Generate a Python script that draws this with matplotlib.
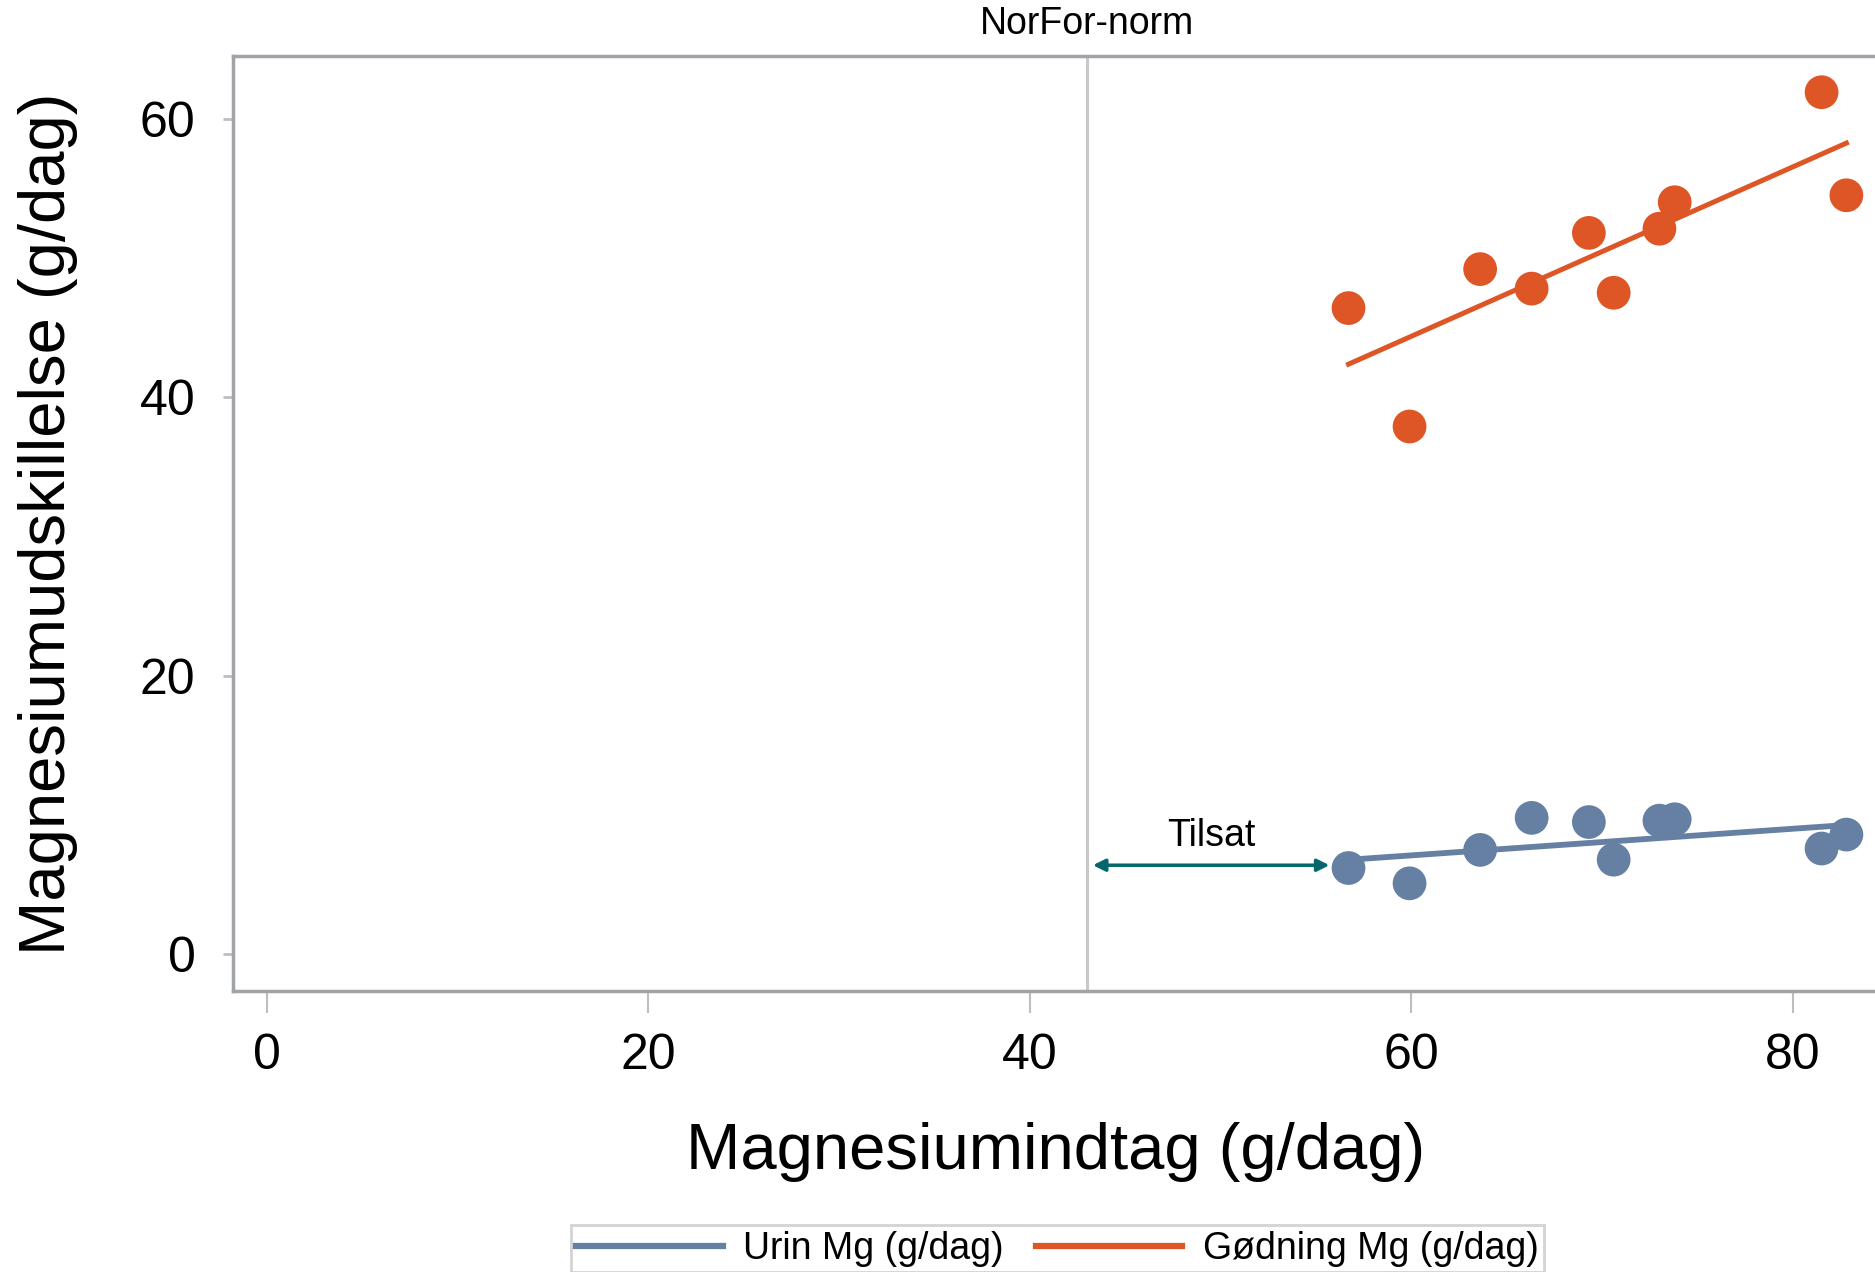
import numpy as np
import matplotlib.pyplot as plt

plt.rcParams['font.family'] = ['Liberation Sans', 'DejaVu Sans']

# Magnesium intake (g/dag) per observation
mg_indtag = [56.7, 59.9, 63.6, 66.3, 69.3, 70.6, 73.0, 73.8, 81.5, 82.8]
# Excretion in manure and urine (g/dag)
goedning_mg = [46.4, 37.9, 49.2, 47.8, 51.8, 47.5, 52.1, 54.0, 61.9, 54.5]
urin_mg = [6.2, 5.1, 7.5, 9.8, 9.5, 6.8, 9.6, 9.7, 7.6, 8.6]

norfor_norm = 43.0
tilsat_start = 43.3
tilsat_slut = 55.7
tilsat_y = 6.4

orange = '#DE5526'
blaa = '#6680A3'
teal = '#05676B'
graa = '#A0A4A8'

fig = plt.figure(figsize=(18.75, 12.72), dpi=100)
ax = fig.add_axes([233/1875, 1 - 991/1272, 1 - 233/1875, 935/1272])

x = np.array(mg_indtag)
xx = np.array([x.min(), x.max()])
for y, c, lab, lw in [(urin_mg, blaa, 'Urin Mg (g/dag)', 4.2),
                      (goedning_mg, orange, 'Gødning Mg (g/dag)', 3.6)]:
    ax.scatter(x, y, s=590, color=c, edgecolors='none', zorder=3)
    k = np.polyfit(x, y, 1)
    ax.plot(xx, np.polyval(k, xx), color=c, lw=lw, zorder=4, label=lab)

ax.axvline(norfor_norm, color='#C8C8C8', lw=2.2, zorder=1)
ax.text(norfor_norm, 1.034, 'NorFor-norm', transform=ax.get_xaxis_transform(),
        ha='center', va='center', fontsize=27)

ax.annotate('', xy=(tilsat_start, tilsat_y), xytext=(tilsat_slut, tilsat_y),
            arrowprops=dict(arrowstyle='<|-|>', color=teal, lw=2.5,
                            mutation_scale=18, shrinkA=0, shrinkB=0))
ax.text((tilsat_start + tilsat_slut) / 2, 8.5, 'Tilsat', ha='center', va='center',
        fontsize=27)

ax.set_xlim(-1.78, 84.3)
ax.set_ylim(-2.63, 64.5)
ax.set_xticks([0, 20, 40, 60, 80])
ax.set_yticks([0, 20, 40, 60])

for s in ['left', 'bottom', 'top']:
    ax.spines[s].set_color(graa)
    ax.spines[s].set_linewidth(2.5)
ax.spines['right'].set_visible(False)

ax.tick_params(axis='x', length=16, width=1.5, color='#BEBEBE', pad=14, labelsize=36)
ax.tick_params(axis='y', length=7, width=2, color='#BEBEBE', pad=20, labelsize=36)

ax.set_xlabel('Magnesiumindtag (g/dag)', fontsize=47, va='center')
ax.xaxis.set_label_coords(0.501, -0.172)
ax.set_ylabel('Magnesiumudskillelse (g/dag)', fontsize=47, va='center')
ax.yaxis.set_label_coords(-0.1127, 0.5)

leg = fig.legend(loc='upper center', bbox_to_anchor=(0.564, 0.0369), ncol=2,
                 fontsize=27, frameon=True, fancybox=False, handlelength=3.9,
                 handletextpad=0.55, columnspacing=0.85, borderpad=0.15,
                 borderaxespad=0)
leg.get_frame().set_edgecolor('#C8C8C8')
leg.get_frame().set_linewidth(2)
for h in leg.get_lines():
    h.set_linewidth(4.5)

fig.savefig('out.png', dpi=100)
